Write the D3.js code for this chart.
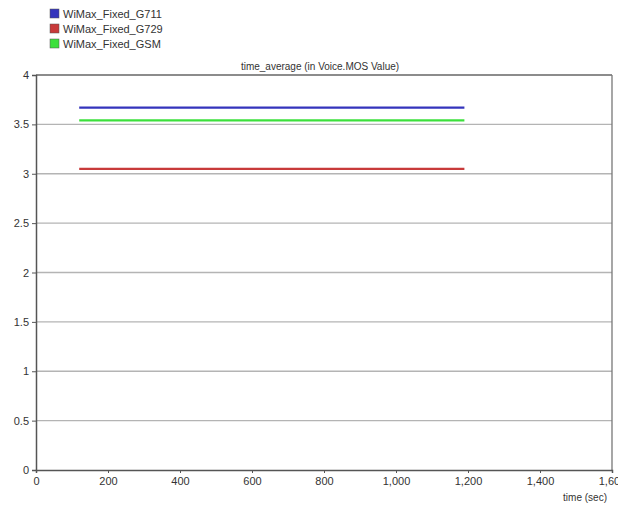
<!DOCTYPE html>
<html>
<head>
<meta charset="utf-8">
<script src="https://cdn.jsdelivr.net/npm/d3@7"></script>
<style>
  body { margin: 0; background: #fff; }
  text { font-family: "Liberation Sans", Arial, sans-serif; fill: #333; }
</style>
</head>
<body>
<script>
'use strict';

// series
const seriesNames = ["WiMax_Fixed_G711", "WiMax_Fixed_G729", "WiMax_Fixed_GSM"];
const seriesColors = ["#3434bc", "#c83a3a", "#3ce03c"];
const times = [120, 400, 700, 1000, 1190];
const g711 = [3.67, 3.67, 3.67, 3.67, 3.67];
const g729 = [3.05, 3.05, 3.05, 3.05, 3.05];
const gsm = [3.54, 3.54, 3.54, 3.54, 3.54];
const xTicks = [0, 200, 400, 600, 800, 1000, 1200, 1400, 1600];
const yTicks = [0, 0.5, 1, 1.5, 2, 2.5, 3, 3.5, 4];

(function() {
  let svg = d3.select('body').append('svg')
    .attr('width', 618)
    .attr('height', 508);

  let left = 36, right = 612, top = 75, bottom = 470;

  let xScale = d3.scaleLinear().domain([0, 1600]).range([left, right]);
  let yScale = d3.scaleLinear().domain([0, 4]).range([bottom, top]);

  // horizontal grid lines
  svg.append('g').selectAll('line')
    .data(yTicks.filter(d => d > 0))
    .enter().append('line')
    .attr('x1', left).attr('x2', right)
    .attr('y1', d => yScale(d)).attr('y2', d => yScale(d))
    .style('stroke', d => d == 4 ? '#666' : '#b4b4b4')
    .style('stroke-width', d => d == 4 ? 1.5 : 1.3);

  // right border
  svg.append('line')
    .attr('x1', right).attr('x2', right)
    .attr('y1', top).attr('y2', bottom)
    .style('stroke', '#777').style('stroke-width', 1.3);

  // y axis
  let yAxis = d3.axisLeft(yScale).tickValues(yTicks).tickSize(4).tickPadding(3)
    .tickFormat(d3.format('~g'));
  let gy = svg.append('g').attr('transform', 'translate(' + left + ',0)').call(yAxis);
  gy.select('.domain').style('stroke', '#555').style('stroke-width', 1.5);
  gy.selectAll('.tick line').style('stroke', '#555');
  gy.selectAll('text').style('font-size', '11px').style('fill', '#333');

  // x axis
  let xAxis = d3.axisBottom(xScale).tickValues(xTicks).tickSize(3).tickPadding(4)
    .tickFormat(d3.format(','));
  let gx = svg.append('g').attr('transform', 'translate(0,' + bottom + ')').call(xAxis);
  gx.select('.domain').style('stroke', '#555').style('stroke-width', 1.5);
  gx.selectAll('.tick line').style('stroke', '#555');
  gx.selectAll('text').style('font-size', '11px').style('fill', '#333');

  // series lines
  let allSeries = [g711, g729, gsm];
  let line = d3.line()
    .x((d, i) => xScale(times[i]))
    .y(d => yScale(d));
  allSeries.forEach((vals, k) => {
    svg.append('path')
      .datum(vals)
      .attr('d', line)
      .style('fill', 'none')
      .style('stroke', seriesColors[k])
      .style('stroke-width', 2.2);
  });

  // title
  svg.append('text')
    .attr('x', 320).attr('y', 70)
    .attr('text-anchor', 'middle')
    .style('font-size', '10px')
    .text('time_average (in Voice.MOS Value)');

  // x label
  svg.append('text')
    .attr('x', 607).attr('y', 501)
    .attr('text-anchor', 'end')
    .style('font-size', '10px')
    .text('time (sec)');

  // legend
  let legend = svg.selectAll('.legend')
    .data(seriesNames)
    .enter().append('g')
    .attr('class', 'legend')
    .attr('transform', (d, i) => 'translate(50,' + (9 + i * 15) + ')');
  legend.append('rect')
    .attr('width', 9).attr('height', 9)
    .style('fill', (d, i) => seriesColors[i])
    .style('stroke', '#555').style('stroke-width', 0.5);
  legend.append('text')
    .attr('x', 13).attr('y', 8.5)
    .style('font-size', '11px')
    .text(d => d);
})();
</script>
</body>
</html>
